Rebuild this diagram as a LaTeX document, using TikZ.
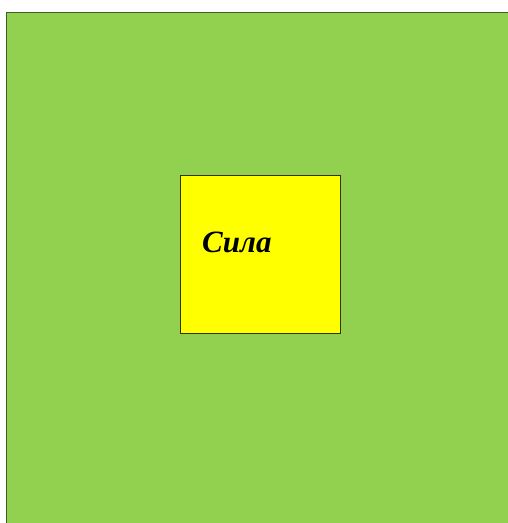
\documentclass[tikz,border=0pt]{standalone}
\usepackage{fontspec}
\setmainfont{Liberation Serif}
\definecolor{bggreen}{HTML}{92D050}
\definecolor{bgedge}{HTML}{3F5F22}
\definecolor{boxyellow}{HTML}{FFFF00}
\definecolor{boxedge}{HTML}{333300}
\begin{document}
\begin{tikzpicture}[x=1pt,y=1pt,
  panel/.style={fill=bggreen,draw=bgedge,line width=1.2pt},
  box/.style={fill=boxyellow,draw=boxedge,line width=0.8pt},
  label/.style={font=\bfseries\itshape\fontsize{31}{36}\selectfont,inner sep=0pt}]
\useasboundingbox (0,0) rectangle (507,523);
\fill[white] (0,0) rectangle (507,523);
\draw[panel] (6.5,510.5) rectangle (530,-20);
\draw[box] (180.5,348) rectangle (340,190);
\node[label,anchor=base west] (t) at (202,270) {Сила};
\end{tikzpicture}
\end{document}
